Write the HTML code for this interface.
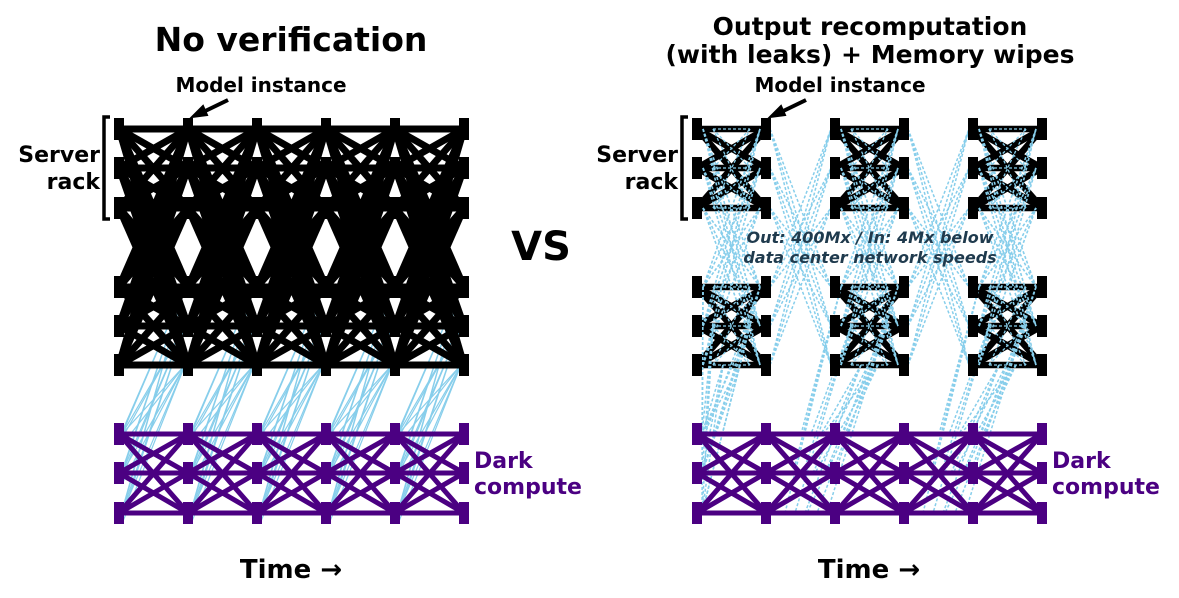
<!DOCTYPE html>
<html><head><meta charset="utf-8"><style>
html,body{margin:0;padding:0;background:#fff;}
svg{display:block;}
text{font-family:"DejaVu Sans","Liberation Sans",sans-serif;font-weight:bold;}
</style></head><body>
<svg id="s" width="1179" height="598" viewBox="0 0 1179 598" xmlns="http://www.w3.org/2000/svg">
<g id="blue"></g><g id="blk"></g><g id="bdash"></g><g id="pur"></g><g id="ticks"></g>
<text x="291" y="51" font-size="33" text-anchor="middle">No verification</text>
<text x="870" y="35" font-size="25" text-anchor="middle">Output recomputation</text>
<text x="870" y="63" font-size="25" text-anchor="middle">(with leaks) + Memory wipes</text>
<text x="261" y="92" font-size="20" text-anchor="middle">Model instance</text>
<text x="840" y="92" font-size="20" text-anchor="middle">Model instance</text>
<path d="M228,100 L197,115" stroke="#000" stroke-width="4"/><path d="M192,117 L203,106 L207,115 Z" fill="#000" stroke="#000" stroke-width="2"/>
<path d="M806,100 L775,115" stroke="#000" stroke-width="4"/><path d="M770,117 L781,106 L785,115 Z" fill="#000" stroke="#000" stroke-width="2"/>
<text x="100" y="162" font-size="22" text-anchor="end">Server</text>
<text x="100" y="189" font-size="22" text-anchor="end">rack</text>
<text x="678" y="162" font-size="22" text-anchor="end">Server</text>
<text x="678" y="189" font-size="22" text-anchor="end">rack</text>
<path d="M110,117 L104,117 L104,219 L110,219" fill="none" stroke="#000" stroke-width="3.5"/>
<path d="M688,117 L682,117 L682,219 L688,219" fill="none" stroke="#000" stroke-width="3.5"/>
<text x="541" y="260" font-size="40" text-anchor="middle">VS</text>
<text x="870" y="243" font-size="16" font-style="italic" fill="#1f3a4d" text-anchor="middle">Out: 400Mx / In: 4Mx below</text>
<text x="870" y="263" font-size="16" font-style="italic" fill="#1f3a4d" text-anchor="middle">data center network speeds</text>
<text x="474" y="468" font-size="22" fill="#4b0082">Dark</text>
<text x="474" y="494" font-size="22" fill="#4b0082">compute</text>
<text x="1052" y="468" font-size="22" fill="#4b0082">Dark</text>
<text x="1052" y="494" font-size="22" fill="#4b0082">compute</text>
<text x="291" y="578" font-size="26" text-anchor="middle">Time →</text>
<text x="869" y="578" font-size="26" text-anchor="middle">Time →</text>
</svg>
<script>
var NS="http://www.w3.org/2000/svg";
function L(g,x1,y1,x2,y2,c,w,d){var e=document.createElementNS(NS,"line");e.setAttribute("x1",x1);e.setAttribute("y1",y1);e.setAttribute("x2",x2);e.setAttribute("y2",y2);e.setAttribute("stroke",c);e.setAttribute("stroke-width",w);if(d)e.setAttribute("stroke-dasharray",d);document.getElementById(g).appendChild(e);}
function T(x,y,c){var e=document.createElementNS(NS,"rect");e.setAttribute("x",x-5);e.setAttribute("y",y-11);e.setAttribute("width",10);e.setAttribute("height",22);e.setAttribute("fill",c);document.getElementById("ticks").appendChild(e);}
var SR=[129,168,208,287,326,365],TOP=[129,168,208],LOW=[287,326,365],DR=[434,473,513];
var LC=[119,188,257,326,395,464],RC=[697,766,835,904,973,1042];
var BL="#87ceeb",BK="#000",PU="#4b0082",DA="3,2";
function full(g,xa,xb,rows,c,w,d){rows.forEach(function(a){rows.forEach(function(b){L(g,xa,a,xb,b,c,w,d);});});}
for(var i=0;i<5;i++){
 full("blk",LC[i],LC[i+1],SR,BK,7);
 full("pur",LC[i],LC[i+1],DR,PU,5);
 DR.forEach(function(d){LOW.forEach(function(s){L("blue",LC[i]+3,d,LC[i+1]-3,s,BL,1.2);L("blue",LC[i]+3,d+(s-300)/6,LC[i+1]-3,s,BL,1.2);});});
}
SR.forEach(function(y){LC.forEach(function(x){T(x,y,BK);});});
DR.forEach(function(y){LC.forEach(function(x){T(x,y,PU);});});
[0,2,4].forEach(function(i){
 TOP.forEach(function(a){LOW.forEach(function(b){
  L("bdash",RC[i]+6,a,RC[i+1]-6,b,BL,1.6,DA);
  L("bdash",RC[i]+6,b,RC[i+1]-6,a,BL,1.6,DA);
 });});
 full("blk",RC[i],RC[i+1],TOP,BK,6.5);
 full("blk",RC[i],RC[i+1],LOW,BK,6.5);
 full("blk",RC[i]+16,RC[i+1]-16,TOP,BL,1.3,DA);
 full("blk",RC[i]+16,RC[i+1]-16,LOW,BL,1.3,DA);
});
TOP.forEach(function(a){LOW.forEach(function(b){
 [1,3].forEach(function(k){
  L("bdash",RC[k]+4,a,RC[k+1]-4,b,BL,1.5,DA);
  L("bdash",RC[k]+4,b,RC[k+1]-4,a,BL,1.5,DA);
 });
});});
[0,2,4].forEach(function(i){
 LOW.forEach(function(s,si){DR.forEach(function(d,di){
  var x1=RC[i]+6+si*10, x1b=RC[i+1]-6-si*10;
  L("bdash",x1,s,Math.max(702,x1-40-di*8),d,BL,1.5,DA);
  L("bdash",x1b,s,Math.max(702,x1b-55-di*8),d,BL,1.5,DA);
 });});
});
for(var i=0;i<5;i++){full("pur",RC[i],RC[i+1],DR,PU,5);}
SR.forEach(function(y){RC.forEach(function(x){T(x,y,BK);});});
DR.forEach(function(y){RC.forEach(function(x){T(x,y,PU);});});
</script>
</body></html>
